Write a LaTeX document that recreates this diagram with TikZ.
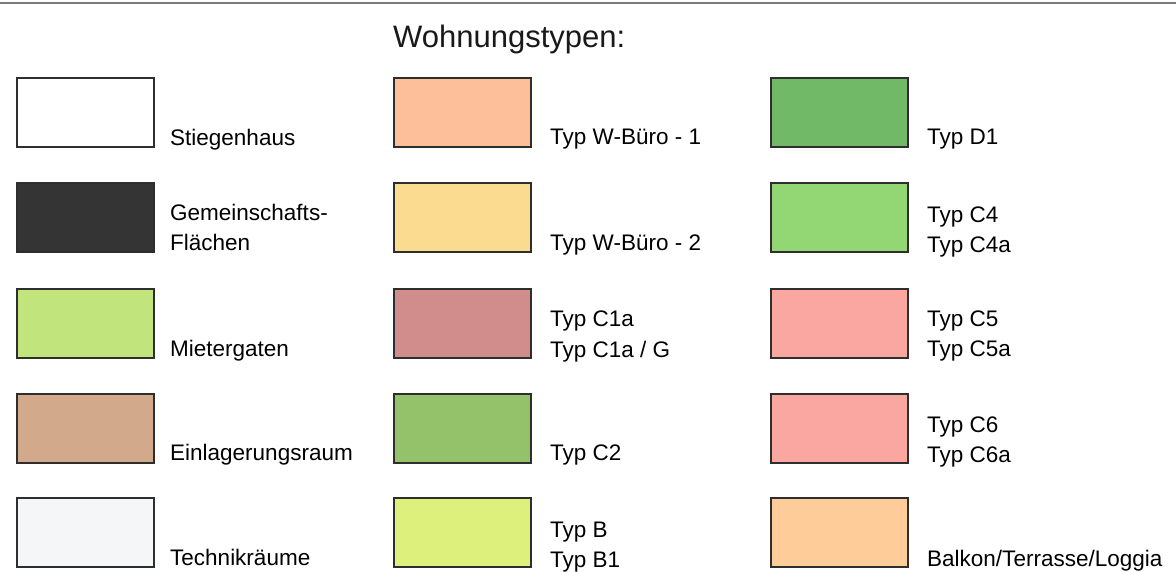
\documentclass[tikz,border=0pt]{standalone}
\usepackage{fontspec}
\setmainfont{Liberation Sans}
\definecolor{edge}{HTML}{2E2E2E}
\definecolor{rule}{HTML}{7A7A7A}
\definecolor{cStieg}{HTML}{FFFFFF}
\definecolor{cGem}{HTML}{343434}
\definecolor{cMiet}{HTML}{C1E47C}
\definecolor{cEinl}{HTML}{D3A98C}
\definecolor{cTech}{HTML}{F5F6F8}
\definecolor{cWa}{HTML}{FDBF9A}
\definecolor{cWb}{HTML}{FBDB90}
\definecolor{cCa}{HTML}{D18C8C}
\definecolor{cCb}{HTML}{93C26B}
\definecolor{cB}{HTML}{DDF07C}
\definecolor{cD}{HTML}{72B967}
\definecolor{cCd}{HTML}{92D773}
\definecolor{cCe}{HTML}{FBA7A1}
\definecolor{cCf}{HTML}{FBA7A1}
\definecolor{cBalk}{HTML}{FDCC99}
\begin{document}
\begin{tikzpicture}[x=1pt,y=-1pt,
  swatch/.style={draw=edge,line width=1.5pt,fill=#1,inner sep=0pt,
    minimum width=137pt,minimum height=69pt,anchor=north west},
  lbl/.style={anchor=base west,inner sep=0pt,font=\fontsize{22.5}{27}\selectfont,text=black},
  ttl/.style={anchor=base west,inner sep=0pt,font=\fontsize{31}{36}\selectfont,text=black!90}]
\useasboundingbox (0,0) rectangle (1176,571);
\coordinate (rl) at (0,3);
\coordinate (rr) at (1176,3);
\draw[rule,line width=2pt] (rl) -- (rr);
\node[ttl] (title) at (393,47) {Wohnungstypen:};
% column 1
\node[swatch=cStieg] (s1) at (16,77) {};
\node[swatch=cGem] (s2) at (16,182) {};
\node[swatch=cMiet] (s3) at (16,288) {};
\node[swatch=cEinl] (s4) at (16,393) {};
\node[swatch=cTech] (s5) at (16,497) {};
\node[lbl] (t1) at (170,145) {Stiegenhaus};
\node[lbl] (t2a) at (170,220) {Gemeinschafts-};
\node[lbl] (t2b) at (170,250) {Flächen};
\node[lbl] (t3) at (170,356) {Mietergaten};
\node[lbl] (t4) at (170,460) {Einlagerungsraum};
\node[lbl] (t5) at (170,565) {Technikräume};
% column 2
\node[swatch=cWa] (s6) at (393,77) {};
\node[swatch=cWb] (s7) at (393,182) {};
\node[swatch=cCa] (s8) at (393,288) {};
\node[swatch=cCb] (s9) at (393,393) {};
\node[swatch=cB] (s10) at (393,497) {};
\node[lbl] (t6) at (550,144) {Typ W-Büro - 1};
\node[lbl] (t7) at (550,250) {Typ W-Büro - 2};
\node[lbl] (t8a) at (550,326) {Typ C1a};
\node[lbl] (t8b) at (550,357) {Typ C1a / G};
\node[lbl] (t9) at (550,460) {Typ C2};
\node[lbl] (t10a) at (550,537) {Typ B};
\node[lbl] (t10b) at (550,567) {Typ B1};
% column 3
\node[swatch=cD] (s11) at (770,77) {};
\node[swatch=cCd] (s12) at (770,182) {};
\node[swatch=cCe] (s13) at (770,288) {};
\node[swatch=cCf] (s14) at (770,393) {};
\node[swatch=cBalk] (s15) at (770,497) {};
\node[lbl] (t11) at (927,144) {Typ D1};
\node[lbl] (t12a) at (927,222) {Typ C4};
\node[lbl] (t12b) at (927,252) {Typ C4a};
\node[lbl] (t13a) at (927,326) {Typ C5};
\node[lbl] (t13b) at (927,356) {Typ C5a};
\node[lbl] (t14a) at (927,432) {Typ C6};
\node[lbl] (t14b) at (927,462) {Typ C6a};
\node[lbl] (t15) at (927,566) {Balkon/Terrasse/Loggia};
\end{tikzpicture}
\end{document}
